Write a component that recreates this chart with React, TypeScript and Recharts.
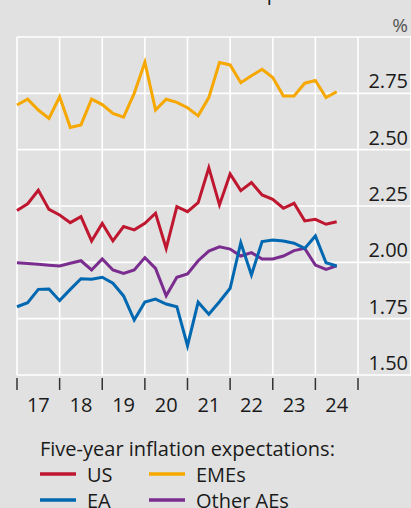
import { LineChart, Line, XAxis, YAxis, CartesianGrid } from "recharts";

// quarterly observations, first one is 2017 Q1
const START_YEAR = 2017;
const yearTicks = [2017, 2018, 2019, 2020, 2021, 2022, 2023, 2024, 2025];
const valueTicks = [1.5, 1.75, 2.0, 2.25, 2.5, 2.75, 3.0];

const us = [
  2.23, 2.26, 2.32, 2.235, 2.21, 2.176, 2.203, 2.095, 2.173, 2.095, 2.159,
  2.144, 2.173, 2.218, 2.062, 2.247, 2.225, 2.265, 2.42, 2.255, 2.392, 2.318,
  2.354, 2.299, 2.28, 2.24, 2.262, 2.184, 2.191, 2.169, 2.18,
];
const emes = [
  2.698, 2.724, 2.676, 2.639, 2.735, 2.599, 2.61, 2.724, 2.7, 2.661, 2.644,
  2.75, 2.888, 2.676, 2.724, 2.71, 2.686, 2.65, 2.731, 2.887, 2.876, 2.797,
  2.828, 2.857, 2.82, 2.738, 2.738, 2.795, 2.807, 2.731, 2.757,
];
const ea = [
  1.803, 1.821, 1.88, 1.882, 1.83, 1.88, 1.927, 1.925, 1.934, 1.907, 1.851,
  1.744, 1.824, 1.837, 1.815, 1.803, 1.63, 1.823, 1.77, 1.825, 1.885, 2.087,
  1.944, 2.092, 2.099, 2.095, 2.085, 2.062, 2.117, 1.998, 1.984,
];
const otherAEs = [
  1.998, 1.995, 1.991, 1.987, 1.984, 1.996, 2.007, 1.966, 2.015, 1.966, 1.951,
  1.966, 2.021, 1.973, 1.852, 1.934, 1.948, 2.007, 2.05, 2.069, 2.059, 2.028,
  2.043, 2.015, 2.015, 2.028, 2.052, 2.062, 1.988, 1.969, 1.984,
];

const data = us.map((v, i) => ({
  t: START_YEAR + i / 4,
  us: v,
  emes: emes[i],
  ea: ea[i],
  other: otherAEs[i],
}));

const RED = "#bf1730";
const YELLOW = "#f6a800";
const BLUE = "#0067b1";
const PURPLE = "#7a2d8e";
const INK = "#1a1a1a";
const FONT = "'Open Sans', 'Noto Sans', sans-serif";

const YEAR_PX = 42.625;

function YearTick({ x, payload }: { x?: number; payload?: { value: number } }) {
  const v = payload?.value ?? 0;
  const px = x ?? 0;
  return (
    <g>
      <line x1={px} x2={px} y1={378} y2={390} stroke="#333" strokeWidth={1.5} />
      {v < 2025 && (
        <text
          x={px + YEAR_PX / 2}
          y={412}
          textAnchor="middle"
          fontSize={20}
          fontFamily={FONT}
          fill={INK}
        >
          {String(v).slice(2)}
        </text>
      )}
    </g>
  );
}

function ValueTick({ y, payload }: { y?: number; payload?: { value: number } }) {
  const v = payload?.value ?? 0;
  if (v >= 3) return null;
  return (
    <text
      x={408}
      y={(y ?? 0) - 5}
      textAnchor="end"
      fontSize={20}
      fontFamily={FONT}
      fill={INK}
    >
      {v.toFixed(2)}
    </text>
  );
}

function LegendOverlay() {
  const row = (y: number, color: string, label: string, x: number) => (
    <g>
      <line x1={x} x2={x + 36} y1={y} y2={y} stroke={color} strokeWidth={3.5} />
      <text x={x + 47} y={y + 7.5} fontSize={20} fontFamily={FONT} fill={INK}>
        {label}
      </text>
    </g>
  );
  return (
    <svg
      width={411}
      height={508}
      style={{ position: "absolute", left: 0, top: 0, pointerEvents: "none" }}
    >
      <text x={364} y={0} textAnchor="end" fontSize={20} fontFamily={FONT} fill={INK}>
        Market-based inflation expectations
      </text>
      <text x={408} y={32} textAnchor="end" fontSize={19} fontFamily={FONT} fill="#555">
        %
      </text>
      <text x={40} y={456} fontSize={20} fontFamily={FONT} fill={INK}>
        Five-year inflation expectations:
      </text>
      {row(474, RED, "US", 40)}
      {row(474, YELLOW, "EMEs", 149)}
      {row(500, BLUE, "EA", 40)}
      {row(500, PURPLE, "Other AEs", 149)}
    </svg>
  );
}

export default function App() {
  return (
    <div
      style={{
        position: "absolute",
        left: 0,
        top: 0,
        width: 411,
        height: 508,
        background: "#e0e1e0",
        overflow: "hidden",
      }}
    >
      <LineChart
        width={411}
        height={508}
        data={data}
        margin={{ top: 37, right: 0, bottom: 93, left: 17 }}
      >
        <CartesianGrid stroke="#ffffff" strokeWidth={1.6} />
        <XAxis
          dataKey="t"
          type="number"
          domain={[START_YEAR, START_YEAR + 394 / YEAR_PX]}
          ticks={yearTicks}
          height={40}
          axisLine={false}
          tickLine={false}
          tick={<YearTick />}
          interval={0}
        />
        <YAxis
          orientation="right"
          mirror
          width={50}
          domain={[1.5, 3]}
          ticks={valueTicks}
          axisLine={false}
          tickLine={false}
          tick={<ValueTick />}
          interval={0}
        />
        <Line dataKey="emes" stroke={YELLOW} strokeWidth={3} dot={false} isAnimationActive={false} />
        <Line dataKey="us" stroke={RED} strokeWidth={3} dot={false} isAnimationActive={false} />
        <Line dataKey="other" stroke={PURPLE} strokeWidth={3} dot={false} isAnimationActive={false} />
        <Line dataKey="ea" stroke={BLUE} strokeWidth={3} dot={false} isAnimationActive={false} />
      </LineChart>
      <LegendOverlay />
    </div>
  );
}
